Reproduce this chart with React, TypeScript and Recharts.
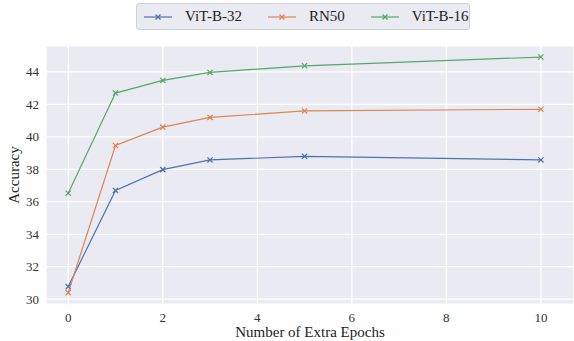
import { CartesianGrid, Line, LineChart, XAxis, YAxis } from "recharts";

const epochs = [0, 1, 2, 3, 5, 10];
const vitB32 = [30.77, 36.7, 37.98, 38.58, 38.8, 38.58];
const rn50 = [30.4, 39.47, 40.6, 41.2, 41.6, 41.7];
const vitB16 = [36.53, 42.7, 43.48, 43.97, 44.38, 44.92];
const xTicks = [0, 2, 4, 6, 8, 10];
const yTicks = [30, 32, 34, 36, 38, 40, 42, 44];

const series = [
  { key: "vitB32", name: "ViT-B-32", color: "#4c72b0" },
  { key: "rn50", name: "RN50", color: "#dd8452" },
  { key: "vitB16", name: "ViT-B-16", color: "#55a868" },
];

const data = epochs.map((e, i) => ({ epoch: e, vitB32: vitB32[i], rn50: rn50[i], vitB16: vitB16[i] }));

const font = "'Liberation Serif', 'DejaVu Serif', serif";

function Cross(props: any) {
  const { cx, cy, stroke } = props;
  if (cx == null || cy == null) return null;
  const r = 2.6;
  return (
    <g stroke={stroke} strokeWidth={1.2}>
      <line x1={cx - r} y1={cy - r} x2={cx + r} y2={cy + r} />
      <line x1={cx - r} y1={cy + r} x2={cx + r} y2={cy - r} />
    </g>
  );
}

function XTick(props: any) {
  const { x, y, payload } = props;
  return (
    <text x={x} y={y + 10} textAnchor="middle" fill="#333" fontSize={13} fontFamily={font} style={{ fontFamily: font }}>
      {payload.value}
    </text>
  );
}

function YTick(props: any) {
  const { x, y, payload } = props;
  return (
    <text x={x + 1} y={y + 4.5} textAnchor="end" fill="#333" fontSize={13} fontFamily={font} style={{ fontFamily: font }}>
      {payload.value}
    </text>
  );
}

export default function App() {
  return (
    <div style={{ position: "absolute", left: 0, top: 0, width: 574, height: 341, background: "#fff", fontFamily: font }}>
      <LineChart width={574} height={341} data={data} margin={{ top: 46, right: 0, bottom: 0, left: 0 }} style={{ fontFamily: font }}>
        <CartesianGrid fill="#eaeaf2" stroke="#ffffff" strokeWidth={1.2} />
        <XAxis
          dataKey="epoch"
          type="number"
          domain={[-0.47, 10.7]}
          ticks={xTicks}
          axisLine={false}
          tickLine={false}
          height={37}
          tick={<XTick />}
        />
        <YAxis
          type="number"
          domain={[29.7, 45.6]}
          ticks={yTicks}
          axisLine={false}
          tickLine={false}
          width={46}
          tick={<YTick />}
        />
        {series.map((s) => (
          <Line
            key={s.key}
            dataKey={s.key}
            name={s.name}
            stroke={s.color}
            strokeWidth={1.2}
            dot={<Cross />}
            activeDot={false}
            isAnimationActive={false}
          />
        ))}
      </LineChart>
      <div style={{ position: "absolute", left: 46, width: 528, top: 324, textAlign: "center", fontSize: 15, color: "#222", lineHeight: "17px" }}>
        Number of Extra Epochs
      </div>
      <div
        style={{
          position: "absolute",
          left: 13.5,
          top: 175,
          transform: "translate(-50%, -50%) rotate(-90deg)",
          fontSize: 15,
          color: "#222",
          whiteSpace: "nowrap",
          lineHeight: "17px",
        }}
      >
        Accuracy
      </div>
      <div
        style={{
          position: "absolute",
          left: 136,
          top: 3,
          width: 334,
          height: 27,
          boxSizing: "border-box",
          border: "1px solid #cfcfd6",
          borderRadius: 3,
          background: "#eaeaf2",
          display: "flex",
          alignItems: "center",
          fontSize: 15,
          color: "#222",
        }}
      >
        {series.map((s, i) => (
          <div key={s.key} style={{ display: "flex", alignItems: "center", marginLeft: i === 0 ? 7 : 26 }}>
            <svg width={28} height={10}>
              <line x1={0} y1={5} x2={28} y2={5} stroke={s.color} strokeWidth={1.2} />
              <line x1={11.5} y1={2.5} x2={16.5} y2={7.5} stroke={s.color} strokeWidth={1.2} />
              <line x1={11.5} y1={7.5} x2={16.5} y2={2.5} stroke={s.color} strokeWidth={1.2} />
            </svg>
            <span style={{ marginLeft: 13 }}>{s.name}</span>
          </div>
        ))}
      </div>
    </div>
  );
}
